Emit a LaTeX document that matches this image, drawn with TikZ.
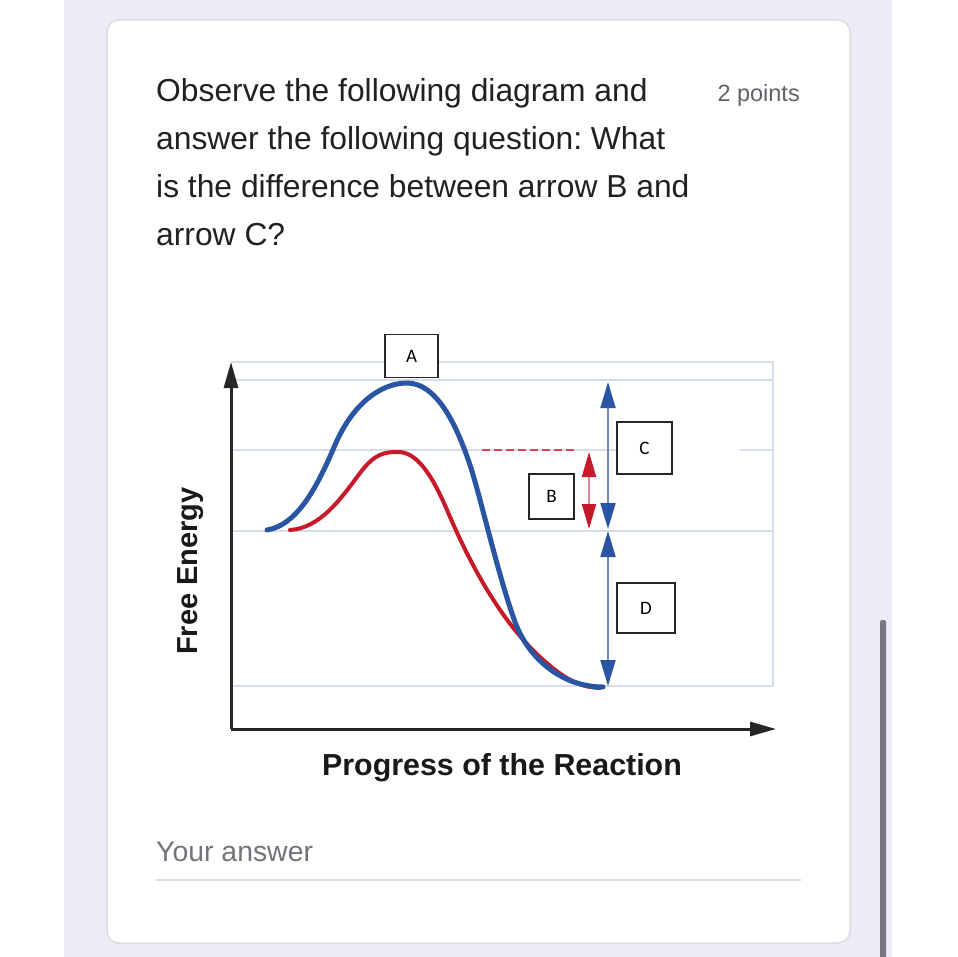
\documentclass[tikz,border=0pt]{standalone}
\usepackage{fontspec}
\setmainfont{Liberation Sans}
\newfontfamily\boxfont{Carlito}
\usetikzlibrary{arrows.meta}
\frenchspacing
\definecolor{lav}{HTML}{EEEBF7}
\definecolor{cardline}{HTML}{DADCE0}
\definecolor{qtext}{HTML}{202124}
\definecolor{ptext}{HTML}{5F6368}
\definecolor{atext}{HTML}{70757A}
\definecolor{grid}{HTML}{D6DDEA}
\definecolor{cblue}{HTML}{2A55A3}
\definecolor{cred}{HTML}{C8192B}
\definecolor{lblue}{HTML}{7088BC}
\definecolor{lred}{HTML}{D98A93}
\definecolor{scroll}{HTML}{7A7682}
\tikzset{
  qline/.style={anchor=base west, inner sep=0pt, text=qtext, font=\fontsize{31.8}{37}\selectfont},
  gridline/.style={draw=grid, line width=2pt},
  axisline/.style={draw=black!85, line width=3pt, -{Triangle[length=26pt,width=14pt]}},
  lbox/.style={draw=black!85, line width=1.2pt, fill=white, inner sep=0pt, font=\boxfont\fontsize{19}{22}\selectfont},
  bluecurve/.style={draw=cblue, line width=5pt, line cap=round},
  redcurve/.style={draw=cred, line width=4pt, line cap=round},
  bluearrow/.style={draw=lblue, line width=2pt, {Triangle[length=26pt,width=15pt,color=cblue]}-{Triangle[length=26pt,width=15pt,color=cblue]}},
  redarrow/.style={draw=lred, line width=2pt, {Triangle[length=25pt,width=14pt,color=cred]}-{Triangle[length=25pt,width=14pt,color=cred]}},
}
\begin{document}
\begin{tikzpicture}[x=1pt,y=-1pt]
\useasboundingbox (0,0) rectangle (957,957);
\fill[white] (0,0) rectangle (957,957);
\fill[lav] (64,0) rectangle (892,957);
% card
\draw[draw=cardline, line width=1.5pt, fill=white, rounded corners=12pt] (107,20) rectangle (850,943);
% scrollbar
\fill[scroll, rounded corners=2pt] (880,620) rectangle (886,962);
% question text
\node[qline] (q1) at (156,102) {Observe the following diagram and};
\node[qline] (q2) at (156,150) {answer the following question: What};
\node[qline] (q3) at (156,198) {is the difference between arrow B and};
\node[qline] (q4) at (156,246) {arrow C?};
\node[anchor=base east, inner sep=0pt, text=ptext, font=\fontsize{23.5}{27}\selectfont] (pts) at (800,102) {2 points};
% chart grid
\draw[gridline] (231,362) -- (773,362) -- (773,686);
\draw[gridline] (231,380) -- (773,380);
\draw[gridline] (231,450) -- (617,450);
\draw[gridline] (740,450) -- (773,450);
\draw[gridline] (231,531) -- (773,531);
\draw[gridline] (231,686) -- (773,686);
% axes
\coordinate (O) at (231,729);
\coordinate (Ytip) at (231,362);
\coordinate (Xtip) at (776,729);
\draw[axisline] (O) -- (Ytip);
\draw[axisline] (O) -- (Xtip);
% dashed red level
\coordinate (dA) at (482,450);
\coordinate (dB) at (574,450);
\draw[draw=cred!80, line width=2pt, dash pattern=on 8pt off 4pt] (dA) -- (dB);
% curves
\draw[redcurve] (290,530) .. controls (320,528) and (340,500) .. (360,473)
  .. controls (375,453) and (385,452) .. (398,452)
  .. controls (415,452) and (430,470) .. (447,510)
  .. controls (470,564) and (500,620) .. (540,657)
  .. controls (565,680) and (580,687) .. (600,688);
\draw[bluecurve] (267,530) .. controls (298,525) and (318,485) .. (335,445)
  .. controls (352,405) and (380,383) .. (407,383)
  .. controls (435,383) and (455,420) .. (470,465)
  .. controls (480,495) and (498,575) .. (515,622)
  .. controls (530,662) and (565,687) .. (603,687);
% level arrows
\coordinate (Ct) at (608,382);
\coordinate (Cb) at (608,529);
\coordinate (Dt) at (608,531);
\coordinate (Db) at (608,686);
\coordinate (Bt) at (589,452);
\coordinate (Bb) at (589,529);
\draw[bluearrow] (Ct) -- (Cb);
\draw[bluearrow] (Dt) -- (Db);
\draw[redarrow] (Bt) -- (Bb);
% label boxes
\node[lbox, minimum width=53pt, minimum height=43pt] (A) at (411.5,356) {A};
\node[lbox, minimum width=45pt, minimum height=45pt] (B) at (551.5,496.5) {B};
\node[lbox, minimum width=55pt, minimum height=52pt] (C) at (644.5,448) {C};
\node[lbox, minimum width=58pt, minimum height=50pt] (D) at (646,608) {D};
% axis labels
\node[rotate=90, inner sep=0pt, text=black!90, font=\bfseries\fontsize{29}{33}\selectfont] (ylab) at (191,571) {Free Energy};
\node[inner sep=0pt, text=black!90, font=\bfseries\fontsize{30.4}{34}\selectfont] (xlab) at (502,768) {Progress of the Reaction};
% answer field
\node[anchor=base west, inner sep=0pt, text=atext, font=\fontsize{28.4}{33}\selectfont] (ans) at (156,861) {Your answer};
\coordinate (uL) at (156,880);
\coordinate (uR) at (801,880);
\draw[draw=cardline, line width=2pt] (uL) -- (uR);
\end{tikzpicture}
\end{document}
